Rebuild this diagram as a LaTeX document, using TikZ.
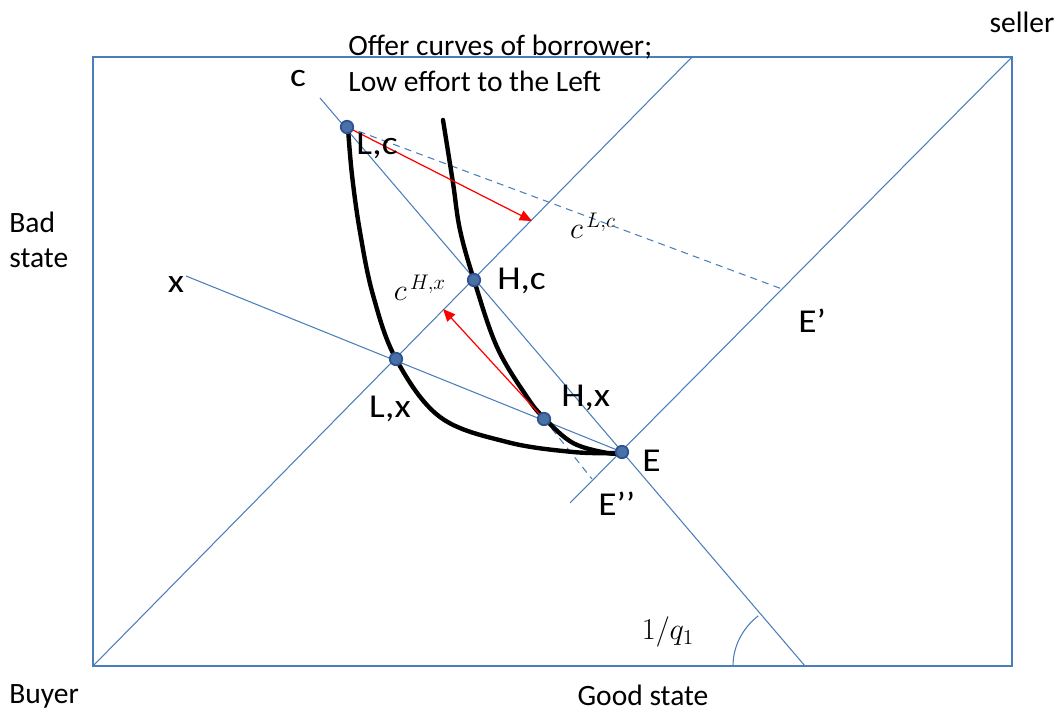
\documentclass[tikz,border=0pt]{standalone}
\usepackage{fontspec}
\setmainfont{Carlito}
\newfontfamily\widecarlito[FakeStretch=1.12]{Carlito}
\usetikzlibrary{arrows.meta}
\definecolor{ln}{RGB}{74,126,187}
\definecolor{dotfill}{RGB}{74,112,168}
\definecolor{dotdraw}{RGB}{47,82,143}
\tikzset{
  geo/.style={draw=ln, line width=0.6pt},
  geodash/.style={draw=ln, line width=0.6pt, dash pattern=on 4pt off 3pt},
  offer/.style={draw=black, line width=2.5pt, line cap=round},
  redarrow/.style={draw=red, line width=0.7pt, -{Triangle[length=7pt,width=6pt]}},
  dot/.style={circle, fill=dotfill, draw=dotdraw, line width=1pt, inner sep=0pt, minimum size=0.25cm},
  lbl/.style={font=\fontsize{16.8}{19}\selectfont, inner sep=0pt},
  ptlbl/.style={font=\widecarlito\fontsize{19}{22}\selectfont, inner sep=0pt},
  mlbl/.style={font=\fontsize{18}{20}\selectfont, inner sep=0pt},
}
\begin{document}
\begin{tikzpicture}[x=0.02cm,y=-0.02cm]
\useasboundingbox (0,0) rectangle (1059,712);
% frame corners
\coordinate (BL) at (93,666);
\coordinate (TL) at (93,57);
\coordinate (TR) at (1012,57);
\coordinate (BR) at (1012,666);
\draw[geo] (BL) -- (TL) -- (TR) -- (BR) -- cycle;
% 45-degree lines
\coordinate (A1) at (692,57);
\draw[geo] (BL) -- (A1);
\coordinate (B0) at (570,503);
\draw[geo] (B0) -- (TR);
% c-line and x-line
\coordinate (C0) at (320,98);
\coordinate (C1) at (805,666);
\draw[geo] (C0) -- (C1);
\coordinate (X0) at (186,276);
\coordinate (Epos) at (622,452);
\draw[geo] (X0) -- (Epos);
% dashed lines
\coordinate (Ep) at (782,289);
\coordinate (Epp) at (592,479);
\draw[geodash] (347,127) coordinate (LcP) -- (Ep);
\draw[geodash] (544,419) coordinate (HxP) -- (Epp);
% angle arc
\draw[geo] (733,666) arc[start angle=180, end angle=229.5, x radius=72, y radius=66];
% offer curves
\draw[offer] plot[smooth, tension=0.6] coordinates {(348,128) (352,175) (360,232) (373,295) (396,359) (440,417) (507,442) (573,452) (618,453)};
\draw[offer] plot[smooth, tension=0.6] coordinates {(443,120) (453,183) (460,230) (474,280) (497,347) (527,397) (545,419) (573,443) (607,453) (620,453)};
% red arrows
\coordinate (R1) at (532,221);
\coordinate (R2) at (443,309);
\draw[redarrow] (LcP) -- (R1);
\draw[redarrow] (HxP) -- (R2);
% dots
\node[dot] (Lc) at (LcP) {};
\node[dot] (Hc) at (474,280) {};
\node[dot] (Lx) at (396,359) {};
\node[dot] (Hx) at (HxP) {};
\node[dot] (E) at (Epos) {};
% labels
\node[lbl] (tseller) at (1022,22) {seller};
\node[lbl, anchor=west] (toffer1) at (348,47) {Offer curves of borrower;};
\node[lbl, anchor=west] (toffer2) at (348,81) {Low effort to the Left};
\node[ptlbl] (tc) at (298,79) {c};
\node[ptlbl] (tLc) at (377,146) {L,c};
\node[lbl, anchor=west] (tbad) at (9,222) {Bad};
\node[lbl, anchor=west] (tstate) at (9,258) {state};
\node[ptlbl] (tx) at (176,285) {x};
\node[mlbl] (tcLc) at (593,226) {$c^{\,L,c}$};
\node[mlbl] (tcHx) at (420,288) {$c^{\,H,x}$};
\node[ptlbl, anchor=west] (tHc) at (497,281) {H,c};
\node[ptlbl, anchor=west] (tEp) at (798,321) {E’};
\node[ptlbl] (tLx) at (390,409) {L,x};
\node[ptlbl, anchor=west] (tHx) at (561,398) {H,x};
\node[ptlbl, anchor=west] (tE) at (642,461) {E};
\node[ptlbl, anchor=west] (tEpp) at (598,504) {E’’};
\node[mlbl] (tq) at (668,632) {$1/q_1$};
\node[lbl, anchor=west] (tbuyer) at (9,696) {Buyer};
\node[lbl] (tgood) at (643,695) {Good state};
\end{tikzpicture}
\end{document}
